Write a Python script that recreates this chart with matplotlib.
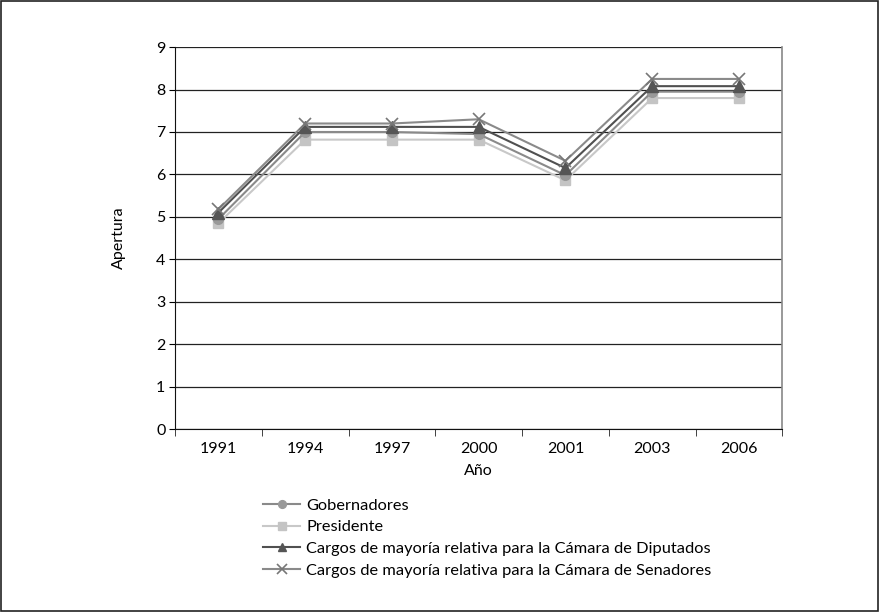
import matplotlib
matplotlib.use("Agg")
import matplotlib.pyplot as plt
from matplotlib.patches import Rectangle

plt.rcParams["font.family"] = ["Lato", "DejaVu Sans"]

years = ["1991", "1994", "1997", "2000", "2001", "2003", "2006"]
gobernadores = [4.95, 7.0, 7.0, 6.95, 5.98, 7.95, 7.95]
presidente = [4.85, 6.82, 6.82, 6.82, 5.86, 7.8, 7.8]
diputados = [5.1, 7.12, 7.12, 7.12, 6.15, 8.08, 8.08]
senadores = [5.18, 7.2, 7.2, 7.3, 6.32, 8.25, 8.25]

labels = [
    "Gobernadores",
    "Presidente",
    "Cargos de mayoría relativa para la Cámara de Diputados",
    "Cargos de mayoría relativa para la Cámara de Senadores",
]

fig = plt.figure(figsize=(8.8, 6.12), dpi=100)
fig.patches.append(Rectangle((0.001, 0.002), 0.997, 0.996, transform=fig.transFigure,
                             fill=False, edgecolor="#222222", linewidth=1.2))
ax = fig.add_axes([0.199, 0.299, 0.69, 0.624])

x = list(range(len(years)))
ax.plot(x, gobernadores, color="#8a8a8a", lw=1.5, marker="o", ms=7, mfc="#999999", mec="#999999",
        label=labels[0], zorder=4)
ax.plot(x, presidente, color="#c8c8c8", lw=1.5, marker="s", ms=7, mfc="#c4c4c4", mec="#c4c4c4",
        label=labels[1], zorder=3)
ax.plot(x, diputados, color="#505050", lw=1.5, marker="^", ms=8, mfc="#555555", mec="#555555",
        label=labels[2], zorder=5)
ax.plot(x, senadores, color="#8a8a8a", lw=1.5, marker="x", ms=9, mew=1.2, mec="#777777",
        label=labels[3], zorder=6)

ax.set_xlim(-0.5, len(years) - 0.5)
ax.set_ylim(0, 9)
ax.set_yticks(range(0, 10))
ax.set_xticks(x)
ax.set_xticklabels(years)
ax.set_xticks([i - 0.5 for i in range(len(years) + 1)], minor=True)
ax.tick_params(axis="x", which="major", length=0, labelsize=11.5, pad=9)
ax.tick_params(axis="x", which="minor", length=5, direction="out", color="#222222")
ax.tick_params(axis="y", length=4, direction="out", labelsize=11.5, pad=3)
ax.yaxis.grid(True, color="#222222", lw=0.9)
ax.set_axisbelow(True)

ax.spines["top"].set_visible(False)
ax.spines["right"].set_color("#888888")
ax.spines["right"].set_linewidth(1.2)
ax.spines["left"].set_color("#111111")
ax.spines["bottom"].set_color("#111111")

ax.set_xlabel("Año", fontsize=11.5, labelpad=6)
ax.set_ylabel("Apertura", fontsize=11.5, labelpad=22)

ax.legend(loc="upper left", bbox_to_anchor=(0.145, -0.181), frameon=False, fontsize=11.8,
          handlelength=2.25, handletextpad=0.37, labelspacing=0.44, borderaxespad=0,
          borderpad=0, markerscale=0.8)

fig.savefig("out.png", dpi=100)
